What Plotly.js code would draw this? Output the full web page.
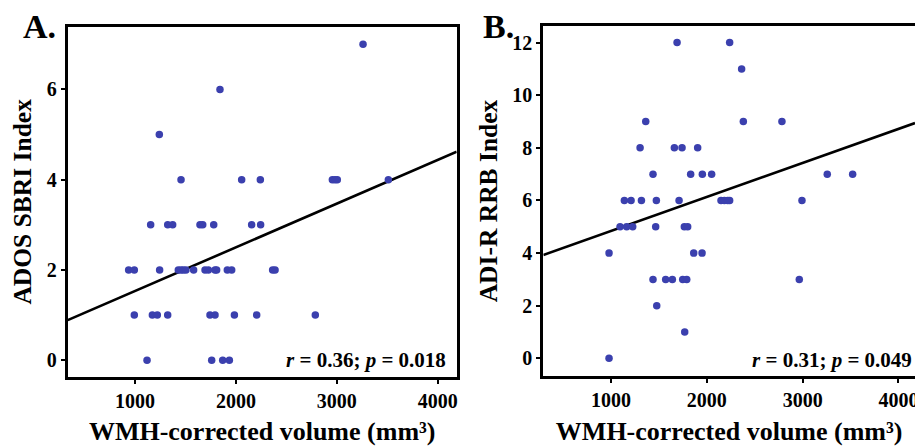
<!DOCTYPE html>
<html>
<head>
<meta charset="utf-8">
<script src="https://cdn.plot.ly/plotly-3.0.1.min.js"></script>
<style>html,body{margin:0;padding:0;background:#fff;}#chart{width:915px;height:446px;}</style>
</head>
<body>
<div id="chart"></div>
<script>
// Panel A: ADOS SBRI Index vs WMH-corrected volume
var volumeA = [3260, 1842, 1241, 1456, 2057, 2242, 2956, 2982, 3005, 3511,
  1155, 1324, 1373, 1644, 1671, 1780, 2156, 2245,
  937, 993, 1244, 1429, 1456, 1479, 1505, 1581, 1694, 1727, 1793, 1809, 1915, 1958, 2364, 2388,
  993, 1172, 1221, 1324, 1743, 1793, 1985, 2206, 2787,
  1119, 1760, 1869, 1935];
var sbriA = [7, 6, 5, 4, 4, 4, 4, 4, 4, 4,
  3, 3, 3, 3, 3, 3, 3, 3,
  2, 2, 2, 2, 2, 2, 2, 2, 2, 2, 2, 2, 2, 2, 2, 2,
  1, 1, 1, 1, 1, 1, 1, 1, 1,
  0, 0, 0, 0];
var fitA = {intercept: 0.565, slope: 0.000968};
var statA = "<i>r</i> = 0.36; <i>p</i> = 0.018";

// Panel B: ADI-R RRB Index vs WMH-corrected volume
var volumeB = [1689, 2238, 2363, 1362, 2381, 2784, 1303, 1661, 1741, 1904,
  1438, 1831, 1953, 2050, 3257, 3522,
  1139, 1209, 1317, 1473, 1710, 2148, 2183, 2217, 2238, 2993,
  1094, 1163, 1226, 1466, 1765, 1800,
  979, 1863, 1950,
  1438, 1570, 1640, 1748, 1790, 2965,
  1477, 1769, 979];
var rrbB = [12, 12, 11, 9, 9, 9, 8, 8, 8, 8,
  7, 7, 7, 7, 7, 7,
  6, 6, 6, 6, 6, 6, 6, 6, 6, 6,
  5, 5, 5, 5, 5, 5,
  4, 4, 4,
  3, 3, 3, 3, 3, 3,
  2, 1, 0];
var fitB = {intercept: 3.55, slope: 0.001292};
var statB = "<i>r</i> = 0.31; <i>p</i> = 0.049";

var xTicks = [1000, 2000, 3000, 4000];
var yTicksA = [0, 2, 4, 6];
var yTicksB = [0, 2, 4, 6, 8, 10, 12];
var xTitle = "WMH-corrected volume (mm³)";
var yTitleA = "ADOS SBRI Index";
var yTitleB = "ADI-R RRB Index";

var xRangeA = [333, 4188], yRangeA = [-0.37, 7.39];
var xRangeB = [293, 4173], yRangeB = [-0.67, 12.63];

var FONT = "Liberation Serif, Times New Roman, serif";
var dotColor = "#3b40ae";

function fitLine(fit, range, xa, ya) {
  return {x: range, y: range.map(function (v) { return fit.intercept + fit.slope * v; }),
    xaxis: xa, yaxis: ya, mode: "lines", line: {color: "#000", width: 2.6}, hoverinfo: "skip", showlegend: false};
}

var traces = [
  fitLine(fitA, xRangeA, "x", "y"),
  {x: volumeA, y: sbriA, xaxis: "x", yaxis: "y", mode: "markers", type: "scatter",
    marker: {color: dotColor, size: 7.5}, showlegend: false},
  fitLine(fitB, xRangeB, "x2", "y2"),
  {x: volumeB, y: rrbB, xaxis: "x2", yaxis: "y2", mode: "markers", type: "scatter",
    marker: {color: dotColor, size: 7.5}, showlegend: false}
];

var tickFont = {family: FONT, size: 20, color: "#000", weight: "bold"};

function axisBase(extra) {
  var a = {showline: true, linecolor: "#000", linewidth: 3, ticks: "outside", ticklen: 4, tickwidth: 2,
    tickcolor: "#000", showgrid: false, zeroline: false, tickmode: "array",
    ticklabeloverflow: "allow", tickfont: tickFont};
  for (var k in extra) a[k] = extra[k];
  return a;
}

var titleFont = {family: FONT, size: 26, color: "#000", weight: 700};
var yTitleFont = {family: FONT, size: 25.5, color: "#000", weight: 700};
var statFont = {family: FONT, size: 21, color: "#000", weight: 700};
var panelFont = {family: FONT, size: 34, color: "#000", weight: 700};

var layout = {
  width: 915, height: 446,
  margin: {l: 0, r: 0, t: 0, b: 0},
  font: tickFont,
  paper_bgcolor: "#fff", plot_bgcolor: "#fff",
  showlegend: false,
  xaxis: axisBase({domain: [0.074, 0.4991], range: xRangeA, tickvals: xTicks, mirror: true, anchor: "y",
    title: {text: xTitle, font: titleFont, standoff: 18}}),
  yaxis: axisBase({domain: [0.155, 0.94], range: yRangeA, tickvals: yTicksA, mirror: true, anchor: "x",
    title: {text: yTitleA, font: yTitleFont, standoff: 8}}),
  xaxis2: axisBase({domain: [0.5938, 1], range: xRangeB, tickvals: xTicks, mirror: true, anchor: "y2",
    title: {text: xTitle, font: titleFont, standoff: 18}}),
  yaxis2: axisBase({domain: [0.157, 0.9417], range: yRangeB, tickvals: yTicksB, anchor: "x2",
    title: {text: yTitleB, font: yTitleFont, standoff: 8}}),
  annotations: [
    {xref: "paper", yref: "paper", x: 0.4896, y: 0.193, xanchor: "right", yanchor: "middle", showarrow: false,
      text: statA, font: statFont},
    {xref: "paper", yref: "paper", x: 0.999, y: 0.193, xanchor: "right", yanchor: "middle", showarrow: false,
      text: statB, font: statFont},
    {xref: "paper", yref: "paper", x: 21 / 915, y: 1 - 27 / 446, xanchor: "left", yanchor: "middle", showarrow: false,
      text: "A.", font: panelFont},
    {xref: "paper", yref: "paper", x: 481 / 915, y: 1 - 27 / 446, xanchor: "left", yanchor: "middle", showarrow: false,
      text: "B.", font: panelFont}
  ]
};

Plotly.newPlot("chart", traces, layout, {displayModeBar: false, staticPlot: true});
</script>
</body>
</html>
